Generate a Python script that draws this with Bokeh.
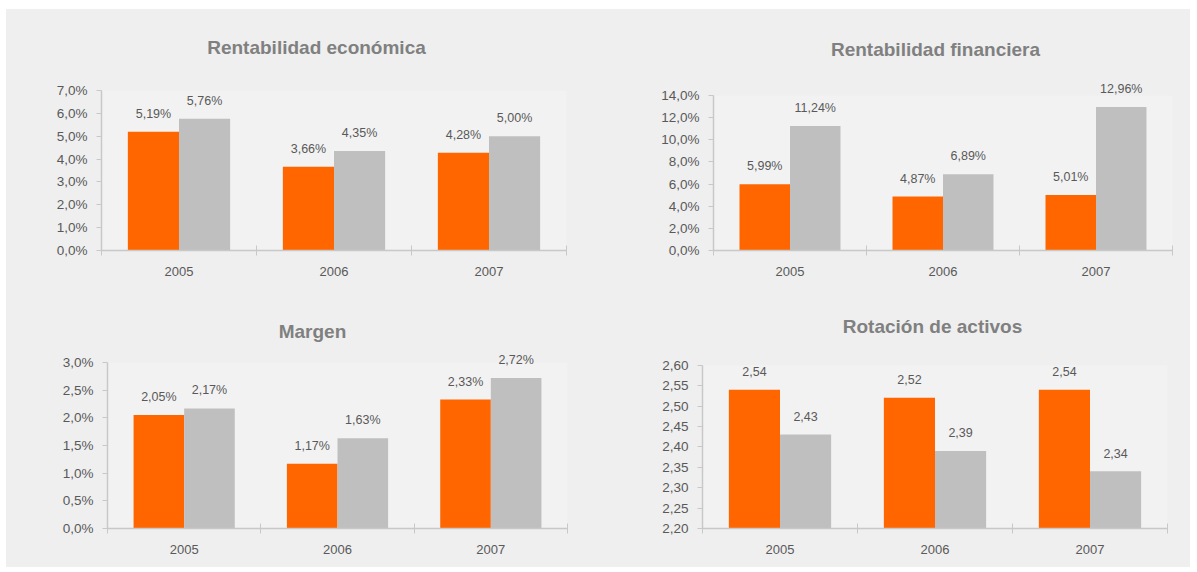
from bokeh.plotting import figure
from bokeh.models import ColumnDataSource, FixedTicker, LabelSet, Label, Range1d
from bokeh.layouts import column, row
from bokeh.core.properties import value
from bokeh.embed import file_html
from bokeh.resources import INLINE

# ---------------- data ----------------
years = ["2005", "2006", "2007"]

re_orange = [5.19, 3.66, 4.28]
re_grey = [5.76, 4.35, 5.00]
re_ticks = [0, 1, 2, 3, 4, 5, 6, 7]
re_tick_labels = ["0,0%", "1,0%", "2,0%", "3,0%", "4,0%", "5,0%", "6,0%", "7,0%"]

rf_orange = [5.99, 4.87, 5.01]
rf_grey = [11.24, 6.89, 12.96]
rf_ticks = [0, 2, 4, 6, 8, 10, 12, 14]
rf_tick_labels = ["0,0%", "2,0%", "4,0%", "6,0%", "8,0%", "10,0%", "12,0%", "14,0%"]

mg_orange = [2.05, 1.17, 2.33]
mg_grey = [2.17, 1.63, 2.72]
mg_ticks = [0, 0.5, 1.0, 1.5, 2.0, 2.5, 3.0]
mg_tick_labels = ["0,0%", "0,5%", "1,0%", "1,5%", "2,0%", "2,5%", "3,0%"]

ra_orange = [2.54, 2.52, 2.54]
ra_grey = [2.43, 2.39, 2.34]
ra_ticks = [2.2, 2.25, 2.3, 2.35, 2.4, 2.45, 2.5, 2.55, 2.6]
ra_tick_labels = ["2,20", "2,25", "2,30", "2,35", "2,40", "2,45", "2,50", "2,55", "2,60"]

ORANGE = "#FF6600"
GREY = "#BFBFBF"
TEXT = "#595959"
TITLE = "#808080"
AXIS = "#C8C8C8"
OUTER = "#EFEFEF"
INNER = "#F2F2F2"
FONT = "Liberation Sans"
BAR_W = 0.33


def fmt(v, pct):
    s = f"{v:.2f}".replace(".", ",")
    return s + "%" if pct else s


def panel(title, orange, grey, ticks, tick_labels, pct, origin, size,
          frame_lr, y_px, title_px):
    ox, oy = origin
    w, h = size
    fl, fr = frame_lr
    y0_px, ytop_px = y_px
    tx, ty = title_px
    ymin, ymax = ticks[0], ticks[-1]
    bl = fl - ox
    br = ox + w - fr
    bb = oy + h - y0_px
    frame_h = y0_px - oy
    y_end = ymin + (ymax - ymin) * frame_h / (y0_px - ytop_px)
    n = len(years)

    p = figure(width=w, height=h, output_backend="svg", toolbar_location=None,
               x_range=Range1d(0, n), y_range=Range1d(ymin, y_end),
               min_border_left=bl, min_border_right=br,
               min_border_top=0, min_border_bottom=bb, title_location=None)
    p.background_fill_color = OUTER
    p.border_fill_color = OUTER
    p.outline_line_color = None
    p.grid.visible = False

    # lighter plotting area
    p.quad(left=0, right=n, bottom=ymin, top=ymax, fill_color=INNER, line_color=None)

    centers = [i + 0.5 for i in range(n)]
    so = ColumnDataSource(dict(x=[c - BAR_W / 2 for c in centers], top=orange,
                               lab=[fmt(v, pct) for v in orange]))
    sg = ColumnDataSource(dict(x=[c + BAR_W / 2 for c in centers], top=grey,
                               lab=[fmt(v, pct) for v in grey]))
    p.vbar(x="x", top="top", bottom=ymin, width=BAR_W, source=so,
           fill_color=ORANGE, line_color=None)
    p.vbar(x="x", top="top", bottom=ymin, width=BAR_W, source=sg,
           fill_color=GREY, line_color=None)
    for src in (so, sg):
        p.add_layout(LabelSet(x="x", y="top", text="lab", source=src,
                              text_align="center", text_baseline="middle",
                              y_offset=18, text_font=value(FONT),
                              text_font_size="12.5px", text_color=TEXT))

    # chart title
    frame_cx = (fl + fr) / 2
    p.add_layout(Label(x=n / 2, y=ymax, x_offset=tx - frame_cx, y_offset=ytop_px - ty,
                       text=title, text_align="center", text_baseline="middle",
                       text_font=FONT, text_font_size="19px", text_font_style="bold",
                       text_color=TITLE))

    # x axis
    xa = p.xaxis[0]
    xa.ticker = FixedTicker(ticks=centers, minor_ticks=list(range(n + 1)))
    xa.major_label_overrides = {c: y for c, y in zip(centers, years)}
    xa.major_tick_line_color = None
    xa.major_tick_out = 0
    xa.major_tick_in = 0
    xa.minor_tick_line_color = AXIS
    xa.minor_tick_out = 5
    xa.minor_tick_in = 5
    xa.axis_line_color = AXIS
    xa.axis_line_width = 1.5
    xa.major_label_standoff = 11
    xa.major_label_text_font = FONT
    xa.major_label_text_font_size = "13px"
    xa.major_label_text_color = TEXT

    # y axis
    ya = p.yaxis[0]
    ya.bounds = (ymin, ymax)
    ya.ticker = FixedTicker(ticks=ticks, minor_ticks=[])
    ya.major_label_overrides = {t: l for t, l in zip(ticks, tick_labels)}
    ya.major_tick_line_color = AXIS
    ya.major_tick_out = 5
    ya.major_tick_in = 0
    ya.minor_tick_line_color = None
    ya.axis_line_color = AXIS
    ya.axis_line_width = 1.5
    ya.major_label_standoff = 9
    ya.major_label_text_font = FONT
    ya.major_label_text_font_size = "13.5px"
    ya.major_label_text_color = TEXT
    return p


p1 = panel("Rentabilidad económica", re_orange, re_grey, re_ticks, re_tick_labels, True,
           (6, 9), (592, 280), (101, 566), (250, 90), (316, 47))
p2 = panel("Rentabilidad financiera", rf_orange, rf_grey, rf_ticks, rf_tick_labels, True,
           (598, 9), (592, 280), (713, 1172), (250, 95), (935, 49))
p3 = panel("Margen", mg_orange, mg_grey, mg_ticks, mg_tick_labels, True,
           (6, 289), (592, 278), (107, 567), (528, 362), (312, 331))
p4 = panel("Rotación de activos", ra_orange, ra_grey, ra_ticks, ra_tick_labels, False,
           (598, 289), (592, 278), (702, 1167), (529, 365), (932, 326))

bg = {"background-color": OUTER}
layout = column(row(p1, p2, spacing=0, styles=bg), row(p3, p4, spacing=0, styles=bg),
                spacing=0, styles=bg, margin=(9, 0, 0, 6))
open("out.html", "w").write(file_html(layout, INLINE))
